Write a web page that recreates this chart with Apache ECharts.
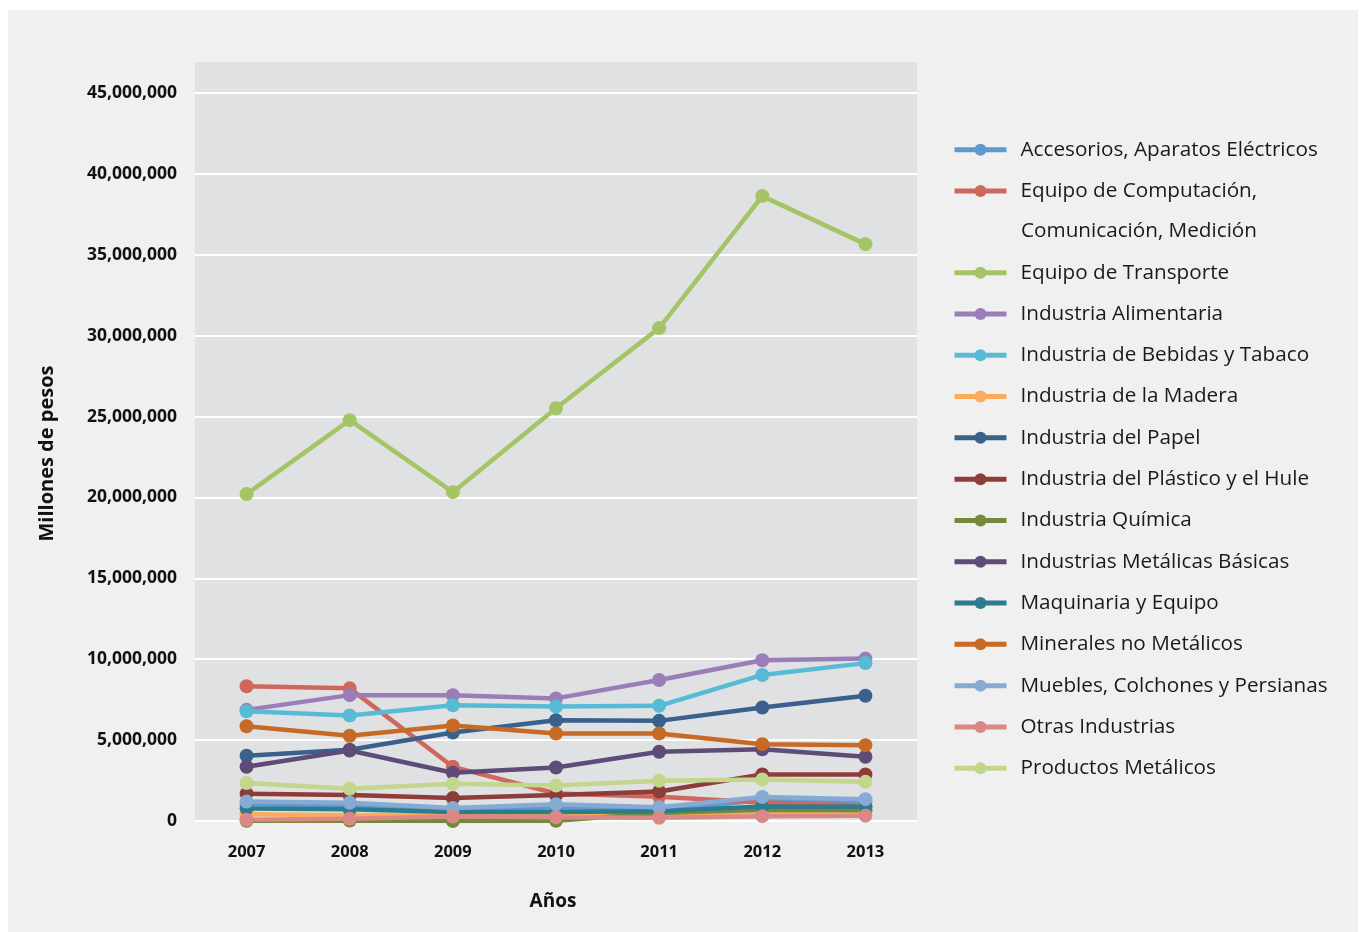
<!DOCTYPE html>
<html><head><meta charset="utf-8">
<script src="https://cdn.jsdelivr.net/npm/echarts@6/dist/echarts.min.js"></script>
<style>
html,body{margin:0;padding:0;background:#ffffff;}
#c{position:absolute;left:8px;top:10px;width:1350px;height:922px;background:#f0f0f0;}
</style></head><body>
<div id="c"></div>
<script>
const years = ['2007','2008','2009','2010','2011','2012','2013'];
const seriesNames = [
  'Accesorios, Aparatos Eléctricos',
  'Equipo de Computación, Comunicación, Medición',
  'Equipo de Transporte',
  'Industria Alimentaria',
  'Industria de Bebidas y Tabaco',
  'Industria de la Madera',
  'Industria del Papel',
  'Industria del Plástico y el Hule',
  'Industria Química',
  'Industrias Metálicas Básicas',
  'Maquinaria y Equipo',
  'Minerales no Metálicos',
  'Muebles, Colchones y Persianas',
  'Otras Industrias',
  'Productos Metálicos'
];
const accesorios  = [1050000, 950000, 650000, 850000, 650000, 1300000, 1200000];
const computacion = [8330000, 8200000, 3350000, 1700000, 1500000, 1150000, 950000];
const transporte  = [20210000, 24780000, 20330000, 25520000, 30470000, 38630000, 35660000];
const alimentaria = [6870000, 7780000, 7780000, 7580000, 8720000, 9940000, 10040000];
const bebidas     = [6780000, 6520000, 7160000, 7080000, 7120000, 9030000, 9760000];
const madera      = [410000, 350000, 420000, 350000, 400000, 550000, 600000];
const papel       = [4030000, 4400000, 5470000, 6230000, 6190000, 7020000, 7740000];
const plastico    = [1690000, 1600000, 1420000, 1610000, 1820000, 2880000, 2880000];
const quimica     = [20000, 30000, 0, 20000, 500000, 700000, 660000];
const metBasicas  = [3350000, 4360000, 2980000, 3310000, 4280000, 4440000, 3970000];
const maquinaria  = [780000, 720000, 550000, 550000, 600000, 900000, 880000];
const minerales   = [5860000, 5270000, 5900000, 5410000, 5410000, 4750000, 4690000];
const muebles     = [1200000, 1130000, 800000, 1030000, 850000, 1480000, 1350000];
const otras       = [80000, 140000, 280000, 230000, 200000, 300000, 330000];
const prodMet     = [2350000, 1990000, 2300000, 2190000, 2490000, 2560000, 2420000];

const seriesData = [accesorios, computacion, transporte, alimentaria, bebidas, madera, papel,
  plastico, quimica, metBasicas, maquinaria, minerales, muebles, otras, prodMet];
const colors = ['#5e9ad0','#d0675d','#a4c566','#9b7db9','#57bbd5','#fbab5a','#39618b',
  '#8e3c3a','#748a3a','#5e4b78','#2d7c8e','#c66a25','#85abd5','#db8785','#c2d68c'];

const chart = echarts.init(document.getElementById('c'));
const FONT = '"Open Sans", sans-serif';
const legendText = {fontFamily: FONT, fontSize: 20.7, color: '#1a1a1a', lineHeight: 41.3, padding: [0, 0, 0, 9]};
const splitColors = [];
for (let i = 0; i < 10; i++) splitColors.push('#ffffff');
splitColors.push('rgba(0,0,0,0)');

chart.setOption({
  backgroundColor: '#f0f0f0',
  color: colors,
  animation: false,
  grid: {left: 187, right: 441, top: 52, bottom: 111, show: true, backgroundColor: '#e0e1e3', borderWidth: 0},
  xAxis: {
    type: 'category', data: years, boundaryGap: true,
    axisLine: {show: false}, axisTick: {show: false},
    axisLabel: {fontFamily: FONT, fontWeight: 'bold', fontSize: 16.5, color: '#111', margin: 23},
    name: 'Años', nameLocation: 'middle', nameGap: 71,
    nameTextStyle: {fontFamily: FONT, fontWeight: 'bold', fontSize: 19, color: '#111', padding: [0, 6, 0, 0]}
  },
  yAxis: {
    type: 'value', min: 0, max: 46920000, interval: 5000000,
    axisLine: {show: false}, axisTick: {show: false},
    axisLabel: {fontFamily: FONT, fontWeight: 'bold', fontSize: 17.5, color: '#111', margin: 18,
      showMaxLabel: false,
      formatter: v => v.toLocaleString('en-US')},
    splitLine: {show: true, lineStyle: {color: splitColors, width: 2}},
    name: 'Millones de pesos', nameLocation: 'middle', nameGap: 138,
    nameTextStyle: {fontFamily: FONT, fontWeight: 'bold', fontSize: 20, color: '#111', padding: [0, 24, 0, 0]}
  },
  legend: [
    {orient: 'vertical', left: 944, top: 119, padding: 0, itemWidth: 52, itemHeight: 15, itemGap: 0,
     lineStyle: {width: 5}, data: seriesNames.slice(0, 2), textStyle: legendText,
     formatter: n => n.startsWith('Equipo de Computación') ? 'Equipo de Computación,' : n},
    {orient: 'vertical', left: 944, top: 242, padding: 0, itemWidth: 52, itemHeight: 15, itemGap: 0,
     lineStyle: {width: 5}, data: seriesNames.slice(2), textStyle: legendText}
  ],
  graphic: [{type: 'text', left: 1013, top: 211,
    style: {text: 'Comunicación, Medición', font: '20.7px "Open Sans", sans-serif', fill: '#1a1a1a'}}],
  series: seriesNames.map((n, i) => ({
    name: n, type: 'line', data: seriesData[i],
    symbol: 'circle', symbolSize: 14, showSymbol: true,
    lineStyle: {width: 4.5}, itemStyle: {color: colors[i]}
  }))
});
</script>
</body></html>
